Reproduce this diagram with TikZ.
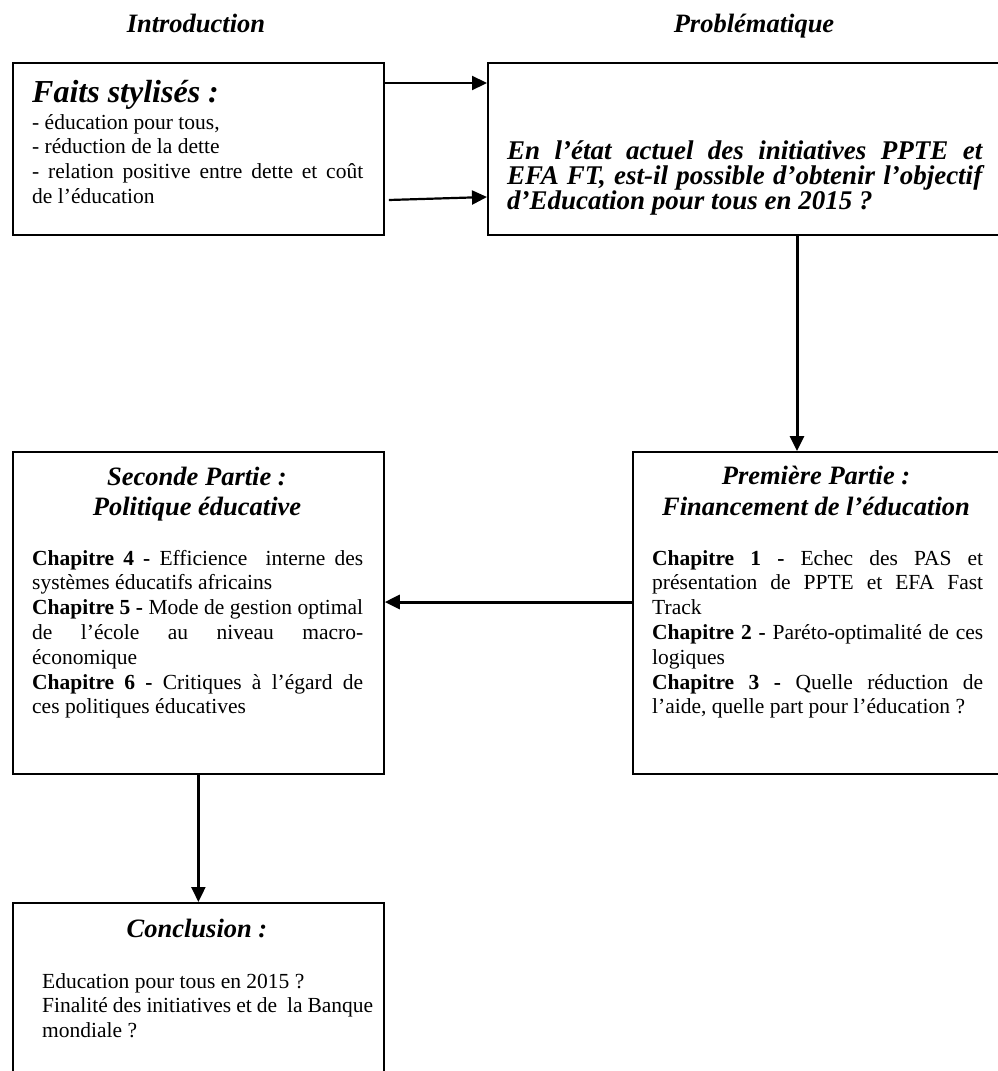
\documentclass[tikz,border=0pt]{standalone}
\usepackage{fontspec}
\setmainfont{Liberation Serif}
\usetikzlibrary{arrows.meta}
\newcommand{\bodyfont}{\fontsize{21.5pt}{24.8pt}\selectfont}
\newcommand{\headfont}{\fontsize{26.5pt}{30pt}\selectfont\bfseries\itshape}
\newcommand{\jl}[1]{\makebox[331pt][s]{#1}}
\newcommand{\jp}[1]{\makebox[475pt][s]{#1}}
\tikzset{
  box/.style={draw=black, line width=1.8pt, rectangle, anchor=north west, inner sep=0pt},
  txt/.style={anchor=base west, inner sep=0pt},
  head/.style={anchor=base, inner sep=0pt, font=\headfont},
  arr/.style={line width=2.2pt, -{Triangle[length=15pt,width=14pt]}},
  arrthick/.style={line width=3pt, -{Triangle[length=15pt,width=14pt]}}
}
\begin{document}
\begin{tikzpicture}[x=1pt,y=-1pt]
\useasboundingbox (0,0) rectangle (998,1071);
\clip (0,0) rectangle (998,1071);

% headers
\node[head] (hintro) at (196,32) {Introduction};
\node[head] (hprob) at (754,32) {Problématique};

% boxes
\node[box, minimum width=371pt, minimum height=172pt] (faits) at (12,62) {};
\node[box, minimum width=530pt, minimum height=172pt] (prob) at (487,62) {};
\node[box, minimum width=380pt, minimum height=322pt] (prem) at (632,451) {};
\node[box, minimum width=371pt, minimum height=322pt] (sec) at (12,451) {};
\node[box, minimum width=371pt, minimum height=220pt] (concl) at (12,902) {};

% Faits stylisés
\node[txt, font=\fontsize{32pt}{36pt}\selectfont\bfseries\itshape] (tfaits) at (32,102) {Faits stylisés :};
\node[txt] (bfaits) at (32,129) {\parbox[t]{331pt}{\bodyfont
- éducation pour tous,\\
- réduction de la dette\\
\jl{- relation positive entre dette et coût}\\
de l’éducation}};

% Problématique
\node[txt] (tprob) at (507,159) {\parbox[t]{475pt}{\fontsize{27pt}{25pt}\selectfont\bfseries\itshape
\jp{En l’état actuel des initiatives PPTE et}\\
\jp{EFA FT, est-il possible d’obtenir l’objectif}\\
d’Education pour tous en 2015 ?}};

% Première partie
\node[head] (tprem1) at (816,484) {Première Partie :};
\node[head] (tprem2) at (816,515) {Financement de l’éducation};
\node[txt] (bprem) at (652,565) {\parbox[t]{331pt}{\bodyfont
\jl{\textbf{Chapitre 1 -} Echec des PAS et}\\
\jl{présentation de PPTE et EFA Fast}\\
Track\\
\jl{\textbf{Chapitre 2 -} Paréto-optimalité de ces}\\
logiques\\
\jl{\textbf{Chapitre 3 -} Quelle réduction de}\\
l’aide, quelle part pour l’éducation ?}};

% Seconde partie
\node[head] (tsec1) at (197,485) {Seconde Partie :};
\node[head] (tsec2) at (197,515) {Politique éducative};
\node[txt] (bsec) at (32,565) {\parbox[t]{331pt}{\bodyfont
\jl{\textbf{Chapitre 4 -} Efficience \ interne des}\\
systèmes éducatifs africains\\
\jl{\textbf{Chapitre 5 -} Mode de gestion optimal}\\
\jl{de l’école au niveau macro-}\\
économique\\
\jl{\textbf{Chapitre 6 -} Critiques à l’égard de}\\
ces politiques éducatives}};

% Conclusion
\node[head] (tconcl) at (197,937) {Conclusion :};
\node[txt] (bconcl) at (42,988) {\parbox[t]{331pt}{\bodyfont\raggedright
Education pour tous en 2015 ?\\
Finalité des initiatives et de \ la Banque\\
mondiale ?}};

% connectors
\draw[arr] ([yshift=-21pt]faits.north east) -- ([yshift=-21pt]prob.north west);
\draw[arr] ([xshift=4pt,yshift=-138pt]faits.north east) -- ([yshift=-135pt]prob.north west);
\draw[arrthick] ([xshift=310pt]prob.south west) -- ([xshift=165pt]prem.north west);
\draw[arrthick] ([yshift=-151pt]prem.north west) -- ([yshift=-151pt]sec.north east);
\draw[arr] (sec.south) -- (concl.north);
\end{tikzpicture}
\end{document}
